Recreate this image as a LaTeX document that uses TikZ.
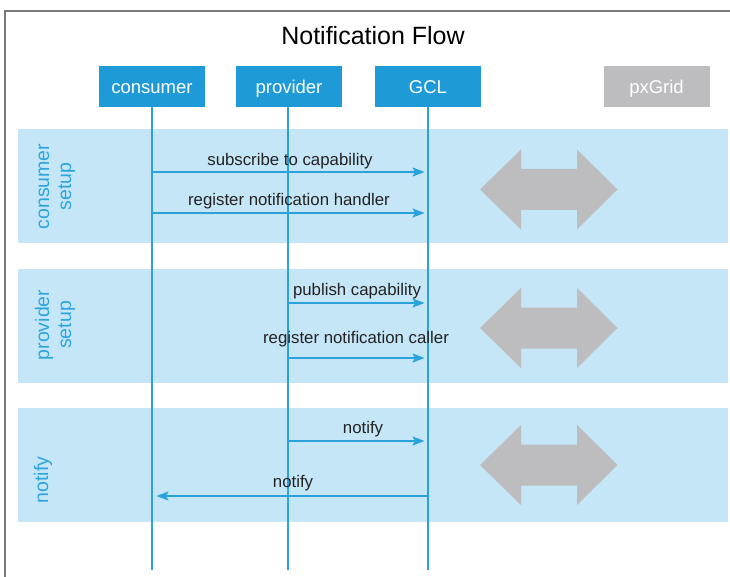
\documentclass[tikz,border=0pt]{standalone}
\usepackage{fontspec}
\setmainfont{Liberation Sans}
\usetikzlibrary{arrows.meta}
\definecolor{boxblue}{HTML}{1E9AD6}
\definecolor{bandblue}{HTML}{C5E6F6}
\definecolor{lineblue}{HTML}{2AA3DD}
\definecolor{labelblue}{HTML}{2CA5DE}
\definecolor{greybox}{HTML}{BDBDBF}
\definecolor{greyarrow}{HTML}{BDBDBF}
\definecolor{frameg}{HTML}{7A7A7A}
\definecolor{msgtext}{HTML}{222222}
\begin{document}
\begin{tikzpicture}[x=1pt,y=-1pt,
  actor/.style={rectangle, fill=boxblue, text=white, minimum width=106pt, minimum height=41pt, inner sep=0pt,
    font=\fontsize{18.5}{22}\selectfont, text height=13.2pt, text depth=0pt},
  greyactor/.style={actor, fill=greybox},
  bandbox/.style={rectangle, fill=bandblue, inner sep=0pt, minimum width=710pt, minimum height=114pt},
  life/.style={draw=lineblue, line width=1.6pt},
  msg/.style={draw=lineblue, line width=1.6pt, -{Stealth[length=12pt,width=9pt,inset=2.5pt]}},
  msglabel/.style={anchor=base, inner sep=0pt, text=msgtext, font=\fontsize{16.8}{20}\selectfont},
  bandlabel/.style={anchor=base, rotate=90, inner sep=0pt, text=labelblue, font=\fontsize{19.5}{22}\selectfont},
  bigarrow/.style={fill=greyarrow}
]
\useasboundingbox (0,0) rectangle (730,577);
\fill[white] (0,0) rectangle (730,577);
\draw[frameg, line width=1.2pt] (5,577) -- (5,11) -- (731,11);

% title
\node[anchor=base, inner sep=0pt, font=\fontsize{25}{30}\selectfont] (title) at (373,45) {Notification Flow};

% bands
\node[bandbox] (band1) at (373,186) {};
\node[bandbox] (band2) at (373,326) {};
\node[bandbox] (band3) at (373,465) {};

% band labels
\node[bandlabel] (lb1a) at (49,186.5) {consumer};
\node[bandlabel] (lb1b) at (71,186.5) {setup};
\node[bandlabel] (lb2a) at (49,325) {provider};
\node[bandlabel] (lb2b) at (71,325) {setup};
\node[bandlabel] (lb3) at (48,480) {notify};

% grey double arrows
\foreach \cy in {189.5,328,465}{
  \fill[bigarrow] (480,\cy) -- (521,\cy-40) -- (521,\cy-20.5) -- (577,\cy-20.5) -- (577,\cy-40)
    -- (617.5,\cy) -- (577,\cy+40) -- (577,\cy+20.5) -- (521,\cy+20.5) -- (521,\cy+40) -- cycle;
}

% actors
\node[actor] (cons) at (152,86.5) {consumer};
\node[actor] (prov) at (289,86.5) {provider};
\node[actor] (gcl) at (428,86.5) {GCL};
\node[greyactor] (pxg) at (656.5,86.5) {pxGrid};

% lifeline ends
\coordinate (consEnd) at (152,570);
\coordinate (provEnd) at (288,570);
\coordinate (gclEnd) at (428,570);
\draw[life] (cons.south) -- (consEnd);
\draw[life] (prov.south -| provEnd) -- (provEnd);
\draw[life] (gcl.south) -- (gclEnd);

% message end points
\coordinate (c1) at (152,172);
\coordinate (g1) at (428,172);
\coordinate (c2) at (152,213);
\coordinate (g2) at (428,213);
\coordinate (p3) at (288,303);
\coordinate (g3) at (428,303);
\coordinate (p4) at (288,358);
\coordinate (g4) at (428,358);
\coordinate (p5) at (288,441);
\coordinate (g5) at (428,441);
\coordinate (g6) at (428,496);
\coordinate (c6) at (152,496);

\draw[msg, shorten >=3.5pt] (c1) -- (g1);
\draw[msg, shorten >=3.5pt] (c2) -- (g2);
\draw[msg, shorten >=3.5pt] (p3) -- (g3);
\draw[msg, shorten >=3.5pt] (p4) -- (g4);
\draw[msg, shorten >=3.5pt] (p5) -- (g5);
\draw[msg, shorten >=4.5pt] (g6) -- (c6);

% message labels
\node[msglabel] (m1) at (290,165.5) {subscribe to capability};
\node[msglabel] (m2) at (289,205.5) {register notification handler};
\node[msglabel] (m3) at (357,295) {publish capability};
\node[msglabel] (m4) at (356,343) {register notification caller};
\node[msglabel] (m5) at (363,433) {notify};
\node[msglabel] (m6) at (293,487) {notify};
\end{tikzpicture}
\end{document}
